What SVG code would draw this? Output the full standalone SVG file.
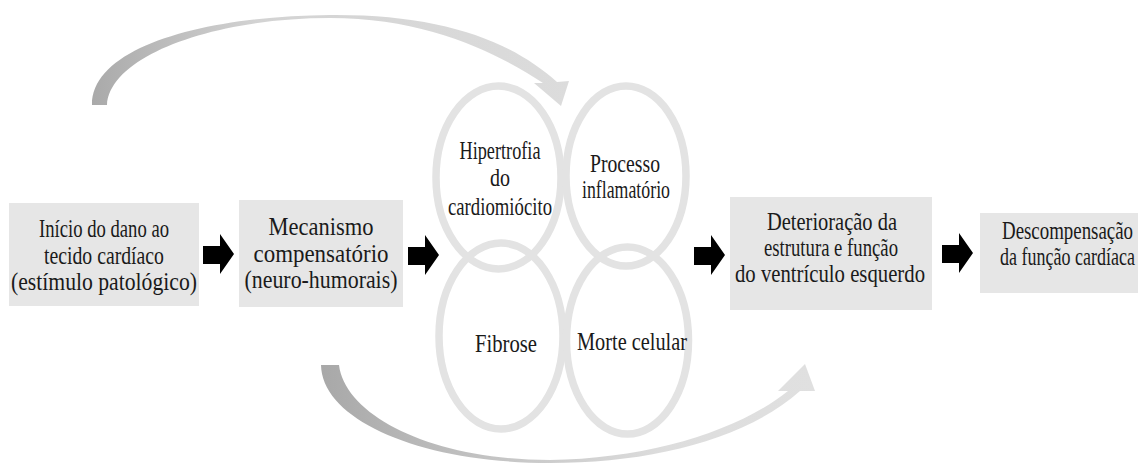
<svg xmlns="http://www.w3.org/2000/svg" width="1138" height="463" viewBox="0 0 1138 463">
<style>
.box{fill:#e6e6e6}
.ring{fill:none;stroke:#e3e3e3;stroke-width:7.5}
.t{font-family:"Liberation Serif","Times New Roman",serif;font-size:25px;fill:#1a1a1a;text-anchor:middle}
.blk{fill:#000}
</style>
<defs>
<path id="arr" d="M0,12 H17 V0 L31,20 L17,40 V30 H0 Z"/>
<linearGradient id="gTop" gradientUnits="userSpaceOnUse" x1="90" y1="0" x2="570" y2="0">
<stop offset="0" stop-color="#a9a9a9"/>
<stop offset="0.35" stop-color="#d3d3d3"/>
<stop offset="1" stop-color="#dcdcdc"/>
</linearGradient>
<linearGradient id="gBot" gradientUnits="userSpaceOnUse" x1="320" y1="0" x2="815" y2="0">
<stop offset="0" stop-color="#a8a8a8"/>
<stop offset="0.4" stop-color="#c8c8c8"/>
<stop offset="0.7" stop-color="#dddddd"/>
<stop offset="1" stop-color="#e0e0e0"/>
</linearGradient>
</defs>

<g id="n1">
<rect class="box" x="9" y="203" width="190" height="103"/>
<text class="t" x="104" y="237" textLength="130" lengthAdjust="spacingAndGlyphs">Início do dano ao</text>
<text class="t" x="104" y="263.5" textLength="120" lengthAdjust="spacingAndGlyphs">tecido cardíaco</text>
<text class="t" x="104" y="290" textLength="186" lengthAdjust="spacingAndGlyphs">(estímulo patológico)</text>
</g>

<g id="n2">
<rect class="box" x="239" y="200" width="164" height="107"/>
<text class="t" x="321" y="235" textLength="105" lengthAdjust="spacingAndGlyphs">Mecanismo</text>
<text class="t" x="321" y="262" textLength="135" lengthAdjust="spacingAndGlyphs">compensatório</text>
<text class="t" x="321" y="288" textLength="153" lengthAdjust="spacingAndGlyphs">(neuro-humorais)</text>
</g>

<g id="n3">
<ellipse class="ring" cx="498.5" cy="177.5" rx="62.5" ry="91.5"/>
<ellipse class="ring" cx="626" cy="176" rx="60" ry="90"/>
<ellipse class="ring" cx="501" cy="336" rx="62" ry="93"/>
<ellipse class="ring" cx="627.5" cy="340.5" rx="61" ry="93.5"/>
</g>

<g id="n3a">
<text class="t" x="500" y="159" textLength="81" lengthAdjust="spacingAndGlyphs">Hipertrofia</text>
<text class="t" x="500" y="186" textLength="20" lengthAdjust="spacingAndGlyphs">do</text>
<text class="t" x="500" y="215" textLength="104" lengthAdjust="spacingAndGlyphs">cardiomiócito</text>
</g>
<g id="n3b">
<text class="t" x="625" y="172" textLength="70" lengthAdjust="spacingAndGlyphs">Processo</text>
<text class="t" x="626" y="198" textLength="88" lengthAdjust="spacingAndGlyphs">inflamatório</text>
</g>
<g id="n3c">
<text class="t" x="506" y="352" textLength="62" lengthAdjust="spacingAndGlyphs">Fibrose</text>
</g>
<g id="n3d">
<text class="t" x="632" y="350" textLength="110" lengthAdjust="spacingAndGlyphs">Morte celular</text>
</g>

<g id="n4">
<rect class="box" x="730" y="197" width="202" height="113"/>
<text class="t" x="832" y="230" textLength="130" lengthAdjust="spacingAndGlyphs">Deterioração da</text>
<text class="t" x="831" y="256" textLength="134" lengthAdjust="spacingAndGlyphs">estrutura e função</text>
<text class="t" x="830" y="282" textLength="190" lengthAdjust="spacingAndGlyphs">do ventrículo esquerdo</text>
</g>

<g id="n5">
<rect class="box" x="980" y="213" width="158" height="80"/>
<text class="t" transform="translate(1067.5,239) scale(0.755,1)" x="0" y="0">Descompensação</text>
<text class="t" transform="translate(1067.5,265) scale(0.72,1)" x="0" y="0">da função cardíaca</text>
</g>

<g id="connectors">
<use href="#arr" class="blk" x="203" y="234"/>
<use href="#arr" class="blk" x="408" y="235"/>
<use href="#arr" class="blk" x="694" y="235"/>
<use href="#arr" class="blk" x="942" y="233"/>
<path fill="url(#gTop)" d="M92,105 C92,45 210,16 330,15 C440,14 510,40 557,82 L569,81 L561,106 L534,83 L543,83 C500,55 430,18 330,18 C215,18 110,55 107,105 Z"/>
<path fill="url(#gBot)" d="M321,365 C322,420 420,463 550,463 C650,463 745,440 800,391 L815,391 L805,364 L778,391 L788,391 C740,430 650,459 550,460 C430,460 345,415 339,365 Z"/>
</g>
</svg>
